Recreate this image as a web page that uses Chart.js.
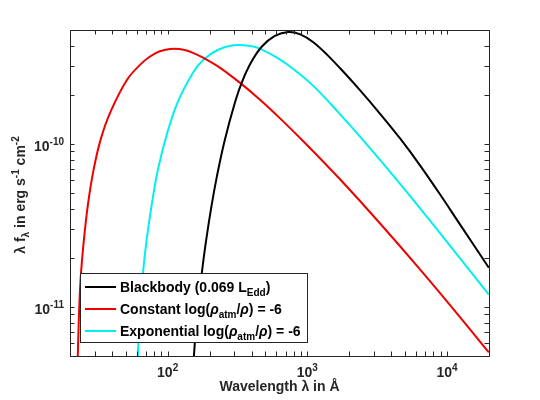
<!DOCTYPE html>
<html>
<head>
<meta charset="utf-8">
<script src="https://cdn.jsdelivr.net/npm/chart.js@4/dist/chart.umd.min.js"></script>
<style>
  body { margin: 0; background: #fff; }
  #wrap { width: 540px; height: 400px; }
</style>
</head>
<body>
<div id="wrap"><canvas id="cvSpectrum"></canvas></div>
<script>
// values (wavelength in Angstrom, lambda f_lambda in erg/s/cm^2)
var bbLambda = [151.6, 154.1, 159.0, 166.5, 176.4, 188.4, 206.2, 225.7, 255.4, 306.0, 343.4, 398.1, 473.2, 586.1, 731.6,
                891, 1104, 1390, 1807, 2391, 3322, 4617, 6412, 8913, 12390, 19950];
var bbFlux = [3.94e-12, 4.93e-12, 7.13e-12, 1.09e-11, 1.66e-11, 2.54e-11, 4.17e-11, 6.37e-11, 1.04e-10, 1.84e-10, 2.44e-10, 3.19e-10, 3.96e-10, 4.6e-10, 4.86e-10,
              4.70e-10, 4.21e-10, 3.52e-10, 2.78e-10, 2.13e-10, 1.53e-10, 1.08e-10, 7.39e-11, 4.91e-11, 3.21e-11, 1.74e-11];

var constLambda = [22.6, 23.0, 23.3, 23.9, 25.1, 26.8, 29.4, 33.2, 39.2, 51.8, 67.4, 82.1, 96.8, 112.2, 130.1, 153.4, 180.7, 239, 332, 461, 641, 967, 1722, 3322, 6412, 12390, 19950];
var constFlux = [4.2e-12, 7.1e-12, 1.0e-11, 1.55e-11, 2.54e-11, 4.17e-11, 6.83e-11, 1.07e-10, 1.59e-10, 2.51e-10, 3.21e-10, 3.61e-10, 3.78e-10, 3.83e-10, 3.78e-10, 3.61e-10, 3.37e-10, 2.92e-10, 2.36e-10, 1.86e-10, 1.43e-10, 1.01e-10, 6.05e-11, 3.25e-11, 1.70e-11, 8.67e-12, 5.26e-12];

var expLambda = [60.6, 61.1, 62.4, 63.7, 66.3, 70.6, 76.7, 84.8, 98.4, 117.9, 153.4, 180.7, 227.6, 296, 391.6, 461, 610.6, 794, 1104, 1638, 2472, 4617, 8913, 19950];
var expFlux = [4.05e-12, 4.93e-12, 7.13e-12, 1.0e-11, 1.55e-11, 2.54e-11, 4.17e-11, 6.83e-11, 1.135e-10, 1.80e-10, 2.77e-10, 3.28e-10, 3.77e-10, 4.03e-10, 3.99e-10, 3.83e-10, 3.37e-10, 2.88e-10, 2.27e-10, 1.59e-10, 1.07e-10, 5.69e-11, 2.84e-11, 1.19e-11];

// axes
var xMin = 20, xMax = 20000;
var yMin = 5e-12, yMax = 5e-10;
var xMajor = [100, 1000, 10000];
var xMajorExp = ["2", "3", "4"];
var xMinor = [20, 30, 40, 50, 60, 70, 80, 90, 200, 300, 400, 500, 600, 700, 800, 900,
              2000, 3000, 4000, 5000, 6000, 7000, 8000, 9000, 20000];
var yMajor = [1e-11, 1e-10];
var yMajorExp = ["-11", "-10"];
var yMinor = [5e-12, 6e-12, 7e-12, 8e-12, 9e-12, 2e-11, 3e-11, 4e-11, 5e-11, 6e-11, 7e-11, 8e-11, 9e-11,
              2e-10, 3e-10, 4e-10, 5e-10];

// legend text, split into pieces for sub/superscripts
var legendRows = [
    [{t: "Blackbody (0.069 L"}, {t: "Edd", sub: true}, {t: ")"}],
    [{t: "Constant log("}, {t: "\u03c1", it: true}, {t: "atm", sub: true}, {t: "/"}, {t: "\u03c1", it: true}, {t: ") = -6"}],
    [{t: "Exponential log("}, {t: "\u03c1", it: true}, {t: "atm", sub: true}, {t: "/"}, {t: "\u03c1", it: true}, {t: ") = -6"}]
];
var xTitle = [{t: "Wavelength "}, {t: "\u03bb"}, {t: " in \u00c5"}];
var yTitle = [{t: "\u03bb f"}, {t: "\u03bb", sub: true}, {t: " in erg s"}, {t: "-1", sup: true}, {t: " cm"}, {t: "-2", sup: true}];

var FONT = '"Liberation Sans", Arial, sans-serif';
var INK = "#262626";

function pts(xs, ys) {
    var out = [];
    for (var i = 0; i < xs.length; i++) {
        out.push({x: xs[i], y: ys[i]});
    }
    return out;
}

function setFont(ctx, size, piece) {
    var s = (piece.sub || piece.sup) ? Math.round(size * 0.72) : size;
    ctx.font = (piece.it ? "italic " : "") + "bold " + s + "px " + FONT;
}

function richWidth(ctx, parts, size) {
    var w = 0;
    for (var i = 0; i < parts.length; i++) {
        setFont(ctx, size, parts[i]);
        w += ctx.measureText(parts[i].t).width;
    }
    return w;
}

// draws text pieces starting at x, baseline y
function drawRich(ctx, parts, x, y, size) {
    ctx.textAlign = "left";
    ctx.textBaseline = "alphabetic";
    for (var i = 0; i < parts.length; i++) {
        var p = parts[i];
        setFont(ctx, size, p);
        var dy = p.sub ? size * 0.32 : (p.sup ? -size * 0.42 : 0);
        ctx.fillText(p.t, x, y + dy);
        x += ctx.measureText(p.t).width;
    }
}

var axesBox = {
    id: "axesBox",
    afterDatasetsDraw: function(chart) {
        var ctx = chart.ctx;
        var a = chart.chartArea;
        var xs = chart.scales.x, ys = chart.scales.y;
        var tick = 4.5;
        ctx.save();
        ctx.strokeStyle = INK;
        ctx.fillStyle = INK;
        ctx.lineWidth = 1;

        // inward ticks on all four sides
        ctx.beginPath();
        var xt = xMajor.concat(xMinor);
        for (var i = 0; i < xt.length; i++) {
            var px = Math.round(xs.getPixelForValue(xt[i])) + 0.5;
            ctx.moveTo(px, a.bottom); ctx.lineTo(px, a.bottom - tick);
            ctx.moveTo(px, a.top); ctx.lineTo(px, a.top + tick);
        }
        var yt = yMajor.concat(yMinor);
        for (var j = 0; j < yt.length; j++) {
            var py = Math.round(ys.getPixelForValue(yt[j])) + 0.5;
            ctx.moveTo(a.left, py); ctx.lineTo(a.left + tick, py);
            ctx.moveTo(a.right, py); ctx.lineTo(a.right - tick, py);
        }
        ctx.stroke();
        ctx.strokeRect(a.left + 0.5, a.top + 0.5, a.right - a.left, a.bottom - a.top);

        // tick labels 10^n
        var ts = 14;
        for (var k = 0; k < xMajor.length; k++) {
            var lab = [{t: "10"}, {t: xMajorExp[k], sup: true}];
            var w = richWidth(ctx, lab, ts);
            drawRich(ctx, lab, xs.getPixelForValue(xMajor[k]) - w / 2, a.bottom + 21, ts);
        }
        for (var m = 0; m < yMajor.length; m++) {
            var labY = [{t: "10"}, {t: yMajorExp[m], sup: true}];
            var wy = richWidth(ctx, labY, ts);
            drawRich(ctx, labY, a.left - 6 - wy, ys.getPixelForValue(yMajor[m]) + 7, ts);
        }

        // axis titles
        var wx = richWidth(ctx, xTitle, 14);
        drawRich(ctx, xTitle, (a.left + a.right) / 2 - wx / 2, a.bottom + 35, 14);
        ctx.save();
        ctx.translate(25, (a.top + a.bottom) / 2 + 2);
        ctx.rotate(-Math.PI / 2);
        var wt = richWidth(ctx, yTitle, 14);
        drawRich(ctx, yTitle, -wt / 2, 0, 14);
        ctx.restore();

        // legend box
        var lx = 80, ly = 273, lw = 227, lh = 69;
        ctx.fillStyle = "#fff";
        ctx.fillRect(lx, ly, lw, lh);
        ctx.strokeStyle = INK;
        ctx.strokeRect(lx + 0.5, ly + 0.5, lw, lh);
        var ds = chart.data.datasets;
        for (var r = 0; r < ds.length; r++) {
            var ry = ly + 14 + r * 22;
            ctx.strokeStyle = ds[r].borderColor;
            ctx.lineWidth = 2;
            ctx.beginPath();
            ctx.moveTo(lx + 5, ry);
            ctx.lineTo(lx + 36, ry);
            ctx.stroke();
            ctx.fillStyle = "#000";
            drawRich(ctx, legendRows[r], lx + 40, ry + 5, 14);
        }
        ctx.restore();
    }
};

new Chart(document.getElementById("cvSpectrum"), {
    type: "line",
    data: {
        datasets: [
            {label: "Blackbody", data: pts(bbLambda, bbFlux), borderColor: "#000000"},
            {label: "Constant", data: pts(constLambda, constFlux), borderColor: "#ee0000"},
            {label: "Exponential", data: pts(expLambda, expFlux), borderColor: "#00f0f0"}
        ]
    },
    options: {
        responsive: true,
        maintainAspectRatio: false,
        animation: false,
        events: [],
        parsing: false,
        layout: {padding: {left: 70, right: 51, top: 30, bottom: 44}},
        elements: {
            line: {borderWidth: 2, tension: 0.35, fill: false},
            point: {radius: 0}
        },
        scales: {
            x: {type: "logarithmic", min: xMin, max: xMax, display: false},
            y: {type: "logarithmic", min: yMin, max: yMax, display: false}
        },
        plugins: {
            legend: {display: false},
            tooltip: {enabled: false}
        }
    },
    plugins: [axesBox]
});
</script>
</body>
</html>
